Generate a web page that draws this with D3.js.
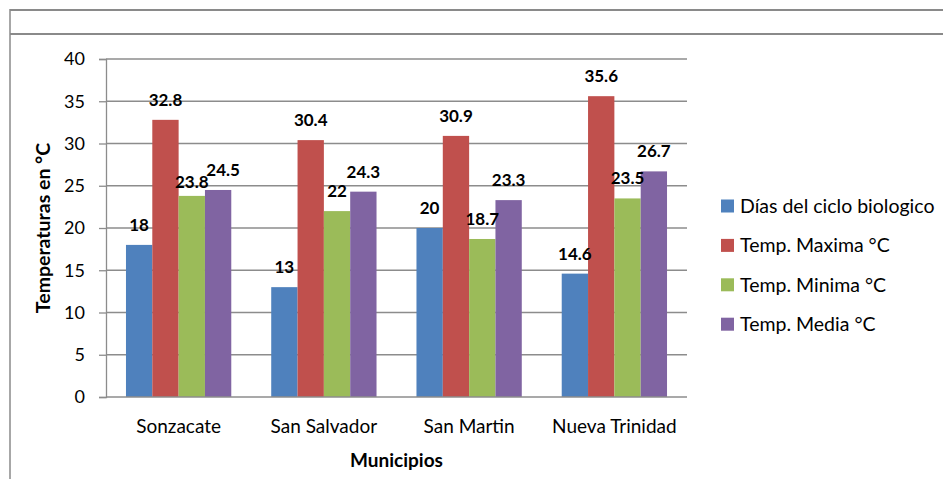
<!DOCTYPE html>
<html><head><meta charset="utf-8">
<script src="https://cdn.jsdelivr.net/npm/d3@7"></script>
<style>
body{margin:0;background:#fff;}
svg text{font-family:Lato,"Open Sans",sans-serif;}
</style></head>
<body><svg id="c" width="943" height="479"></svg>
<script>
const categories = ["Sonzacate","San Salvador","San Martin","Nueva Trinidad"];
const seriesNames = ["Días del ciclo biologico","Temp. Maxima °C","Temp. Minima °C","Temp. Media °C"];
const dias   = [18, 13, 20, 14.6];
const tmax   = [32.8, 30.4, 30.9, 35.6];
const tmin   = [23.8, 22, 18.7, 23.5];
const tmedia = [24.5, 24.3, 23.3, 26.7];
const yTicks = [0,5,10,15,20,25,30,35,40];
const colors = ["#4F81BD","#C0504D","#9BBB59","#8064A2"];
const seriesValues = [dias, tmax, tmin, tmedia];

(function(){
const svg = d3.select("#c");
const W=943,H=479;
// frame
svg.append("line").attr("x1",10).attr("x2",W).attr("y1",10).attr("y2",10).attr("stroke","#8a8a8a").attr("stroke-width",2);
svg.append("line").attr("x1",10).attr("x2",W).attr("y1",34).attr("y2",34).attr("stroke","#8a8a8a").attr("stroke-width",2);
svg.append("line").attr("x1",10).attr("x2",10).attr("y1",9).attr("y2",H).attr("stroke","#8a8a8a").attr("stroke-width",1.5);

const pL=106,pR=687,pT=59,pB=397;
const y = d3.scaleLinear().domain([0,40]).range([pB,pT]);
const x0 = d3.scaleBand().domain(categories).range([pL,pR]).paddingInner(0.275).paddingOuter(0.1375);
const x1 = d3.scaleBand().domain(d3.range(4)).range([0,x0.bandwidth()]);

// gridlines
svg.append("g").selectAll("line").data(yTicks.filter(d=>d>0)).join("line")
  .attr("x1",pL).attr("x2",pR).attr("y1",d=>y(d)).attr("y2",d=>y(d))
  .attr("stroke","#8c8c8c").attr("stroke-width",1.3);

// y axis
const ya = svg.append("g").attr("transform",`translate(${pL},0)`)
  .call(d3.axisLeft(y).tickValues(yTicks).tickSize(7).tickPadding(14));
ya.select(".domain").attr("stroke","#8c8c8c").attr("stroke-width",1.3);
ya.selectAll(".tick line").attr("stroke","#8c8c8c").attr("stroke-width",1.3);
ya.selectAll("text").attr("font-size",18).attr("fill","#000").attr("font-family","Lato,'Open Sans',sans-serif");

// bars
const groups = svg.append("g").selectAll("g").data(categories).join("g")
  .attr("transform",d=>`translate(${x0(d)},0)`);
groups.selectAll("rect").data((d,i)=>seriesValues.map((s,k)=>({k,v:s[i]}))).join("rect")
  .attr("x",d=>x1(d.k)).attr("width",x1.bandwidth())
  .attr("y",d=>y(d.v)).attr("height",d=>pB-y(d.v))
  .attr("fill",d=>colors[d.k]);
groups.each(function(){
  const labels = d3.select(this).selectAll("text").data((d)=>{
      const i = categories.indexOf(d);
      return seriesValues.map((s,k)=>({k,v:s[i]}));
    }).join("text")
    .attr("x",d=>x1(d.k)+x1.bandwidth()/2).attr("y",d=>y(d.v)-14)
    .attr("text-anchor","middle").attr("font-size",17).attr("font-weight","bold")
    .text(d=>d.v);
  // simple collision avoidance between neighbouring labels
  const nodes = labels.nodes();
  const cap = 12.5;
  for (let k=0;k<nodes.length-1;k++){
    const a = nodes[k], b = nodes[k+1];
    const ax=+a.getAttribute("x"), bx=+b.getAttribute("x");
    const aw=a.getComputedTextLength(), bw=b.getComputedTextLength();
    const ay=+a.getAttribute("y"), by=+b.getAttribute("y");
    const hOverlap = (ax+aw/2) - (bx-bw/2);
    if (hOverlap>0 && Math.abs(ay-by)<cap){
      if (ay>=by){ a.setAttribute("y", by+cap); b.setAttribute("x", bx+Math.min(hOverlap,5)); }
      else { b.setAttribute("y", ay+cap); a.setAttribute("x", ax-Math.min(hOverlap,5)); }
    }
  }
});

// x axis
svg.append("line").attr("x1",pL).attr("x2",pR).attr("y1",pB).attr("y2",pB)
  .attr("stroke","#8c8c8c").attr("stroke-width",1.3);
svg.append("g").selectAll("text").data(categories).join("text")
  .attr("x",d=>x0(d)+x0.bandwidth()/2).attr("y",433)
  .attr("text-anchor","middle").attr("font-size",19).text(d=>d);

// titles
svg.append("text").attr("x",(pL+pR)/2).attr("y",467).attr("text-anchor","middle")
  .attr("font-size",19).attr("font-weight","bold").text("Municipios");
svg.append("text").attr("transform",`translate(50,${(pT+pB)/2}) rotate(-90)`)
  .attr("text-anchor","middle").attr("font-size",19.5).attr("font-weight","bold").text("Temperaturas en °C");

// legend
const lg = svg.append("g").selectAll("g").data(seriesNames).join("g")
  .attr("transform",(d,i)=>`translate(721,${206+i*39.4})`);
lg.append("rect").attr("x",0).attr("y",-6.5).attr("width",13).attr("height",13).attr("fill",(d,i)=>colors[i]);
lg.append("text").attr("x",19).attr("y",7).attr("font-size",19.5).text(d=>d);
})();
</script></body></html>
